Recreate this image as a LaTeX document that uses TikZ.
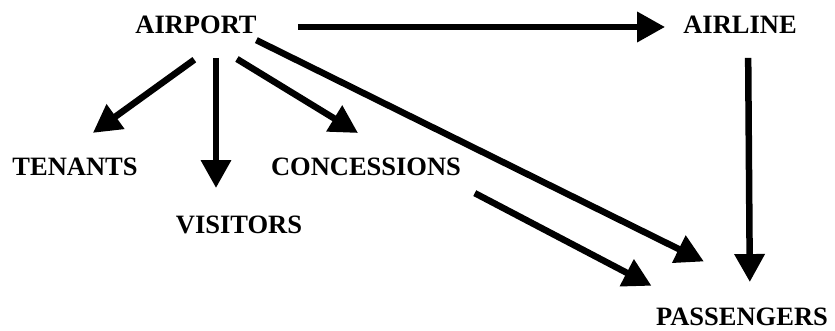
\documentclass[tikz,border=0pt]{standalone}
\usepackage{fontspec}
\setmainfont{Liberation Serif}
\usetikzlibrary{arrows.meta}
\tikzset{
  party/.style={inner sep=0pt, text height=17.5pt, text depth=0pt,
    font=\fontsize{26.5}{30}\selectfont\bfseries},
  flow/.style={line width=6.5pt, -{Triangle[length=28pt,width=29pt]}}
}
\begin{document}
\begin{tikzpicture}[x=1pt, y=1pt]
\useasboundingbox (0,0) rectangle (835,331);
\node[party] (airport) at (196,306) {AIRPORT};
\node[party] (airline) at (740,306) {AIRLINE};
\node[party] (tenants) at (75,164) {TENANTS};
\node[party] (visitors) at (239,106) {VISITORS};
\node[party] (concessions) at (366,164) {CONCESSIONS};
\node[party] (passengers) at (742,14) {PASSENGERS};
\draw[flow, shorten <=41pt, shorten >=18pt] ([yshift=-2pt]airport.east) -- ([yshift=-2pt]airline.west);
\draw[flow, shorten <=44pt, shorten >=43pt] ([xshift=34pt]airport.south) -- ([xshift=-17pt]tenants.north);
\draw[flow, shorten <=24pt, shorten >=28pt] ([xshift=20pt]airport.south) -- ([xshift=-23pt]visitors.north);
\draw[flow, shorten <=48pt, shorten >=48pt] (airport.south) -- ([xshift=33pt]concessions.north);
\draw[flow, shorten <=14pt, shorten >=105pt] ([xshift=-13pt]airport.south east) -- ([xshift=56pt]passengers.north);
\draw[flow, shorten <=37pt, shorten >=48pt] ([xshift=76pt]concessions.south) -- ([xshift=-48pt]passengers.north);
\draw[flow, shorten <=24pt, shorten >=26pt] ([xshift=8pt]airline.south) -- ([xshift=8pt]passengers.north);
\end{tikzpicture}
\end{document}
